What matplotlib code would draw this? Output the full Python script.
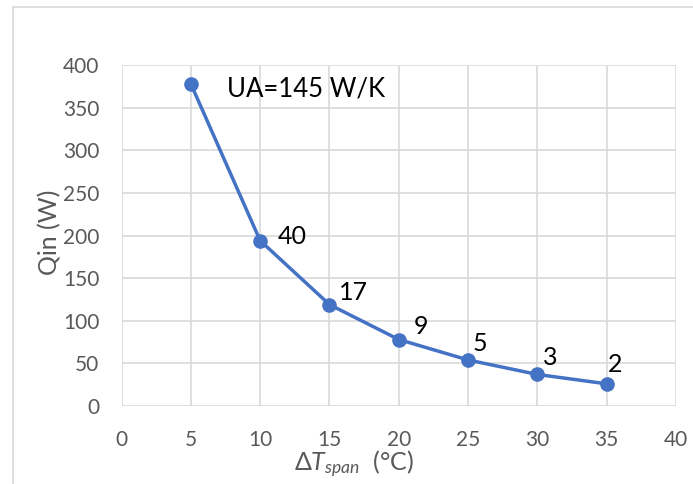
import matplotlib
matplotlib.use("Agg")
import matplotlib.pyplot as plt
from matplotlib.patches import Rectangle

# data
dt_span = [5, 10, 15, 20, 25, 30, 35]
q_in = [378, 194, 119, 78, 54, 37, 26]
point_labels = ["", "40", "17", "9", "5", "3", "2"]
x_ticks = [0, 5, 10, 15, 20, 25, 30, 35, 40]
y_ticks = [0, 50, 100, 150, 200, 250, 300, 350, 400]

# label offsets in pixels (dx, dy) from each point
label_offsets = [(0, 0), (18, 4), (10, 12), (15, 13), (5, 16), (6, 17), (1, 19)]

plt.rcParams["font.family"] = ["Lato", "DejaVu Sans"]
plt.rcParams["mathtext.fontset"] = "custom"
plt.rcParams["mathtext.it"] = "Lato:italic"
plt.rcParams["mathtext.rm"] = "Lato"

fig = plt.figure(figsize=(6.93, 4.84), dpi=100)
ax = fig.add_axes([121.5 / 693, 1 - 406 / 484, (676 - 121.5) / 693, (406 - 65) / 484])

# outer chart border (Excel style)
fig.patches.append(Rectangle((13 / 693, -0.1), 1.2, 1.1 - 7 / 484, transform=fig.transFigure,
                             fill=False, edgecolor="#D9D9D9", linewidth=1.2))

ax.plot(dt_span, q_in, color="#4472C4", linewidth=2.5, marker="o", markersize=9.5,
        clip_on=False, zorder=3)

for x, y, lab, (dx, dy) in zip(dt_span, q_in, point_labels, label_offsets):
    if lab:
        ax.annotate(lab, (x, y), xytext=(dx, dy), textcoords="offset pixels",
                    ha="left", va="center", fontsize=18, color="black")

ax.text(7.6, 372, "UA=145 W/K", fontsize=18.5, color="black", ha="left", va="center")

ax.set_xlim(0, 40)
ax.set_ylim(0, 400)
ax.set_xticks(x_ticks)
ax.set_yticks(y_ticks)
ax.grid(True, color="#D9D9D9", linewidth=1.2)
ax.set_axisbelow(True)
for s in ax.spines.values():
    s.set_visible(False)
ax.tick_params(length=0, labelsize=15, colors="#595959")
ax.tick_params(axis="y", pad=16)
ax.tick_params(axis="x", pad=17)

ax.set_xlabel(r"$\mathit{\Delta T_{span}}$  (°C)", fontsize=18, color="#595959", va="center")
ax.xaxis.set_label_coords(0.42, -0.17)
ax.set_ylabel("Qin (W)", fontsize=18, color="#595959", va="center")
ax.yaxis.set_label_coords(-0.13, 0.51)

fig.savefig("out.png", dpi=100)
